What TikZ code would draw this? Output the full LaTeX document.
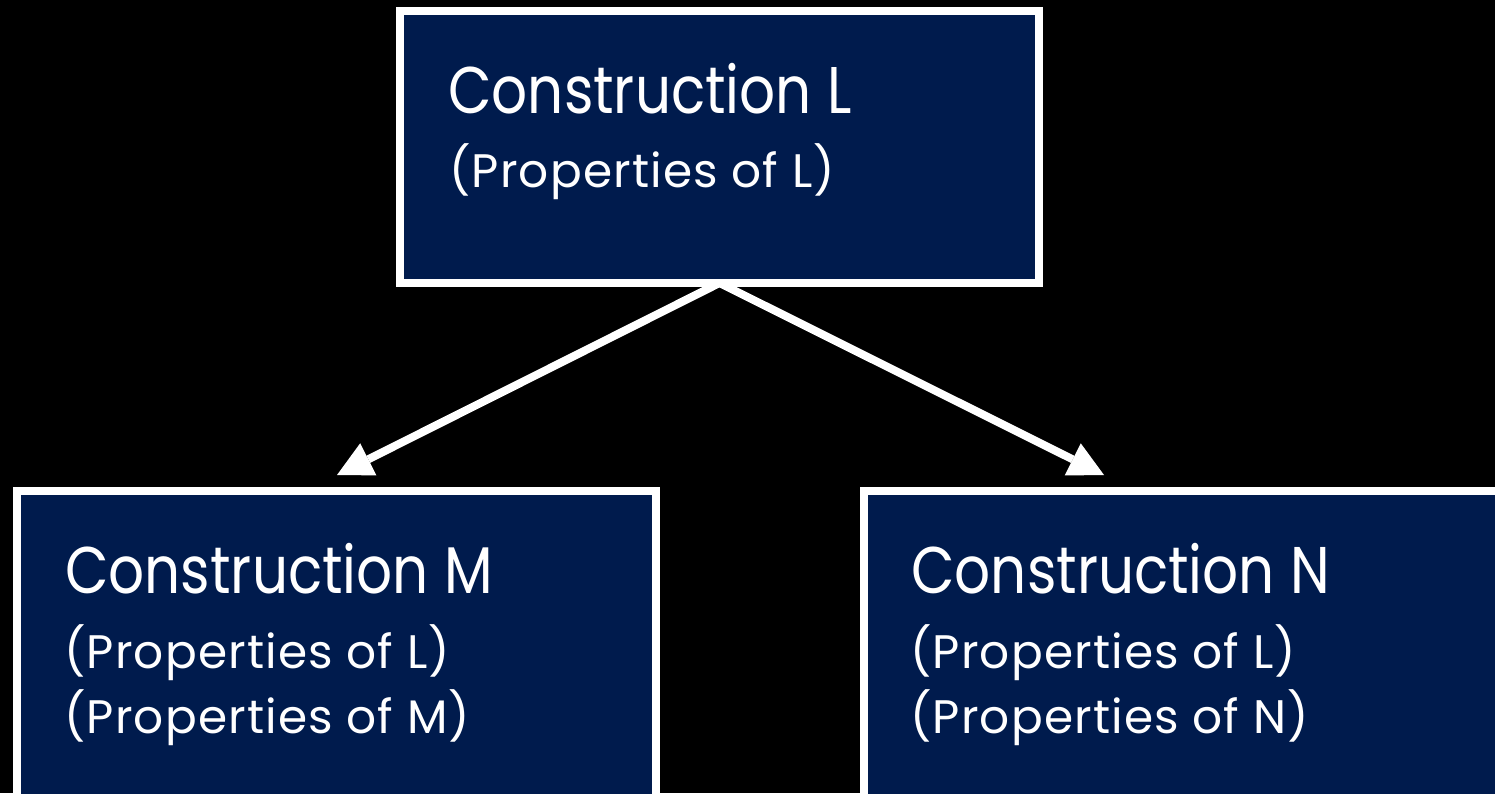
\documentclass[tikz,border=0pt]{standalone}
\usepackage{fontspec}
\setmainfont{Poppins}[FakeStretch=0.855]
\newfontfamily\subfont{Poppins}[LetterSpace=2.5]
\usetikzlibrary{arrows.meta}
\definecolor{navy}{HTML}{001B4D}
\tikzset{
  box/.style={draw=white, fill=navy, line width=8pt, rectangle, inner sep=0pt, outer sep=0pt},
  head/.style={text=white, font=\fontsize{66}{66}\selectfont, inner sep=0pt, anchor=base west},
  sub/.style={text=white, font=\subfont\fontsize{47}{47}\selectfont, inner sep=0pt, anchor=base west},
  arr/.style={draw=white, line width=8pt, -{Triangle[length=35pt,width=36pt,line width=0pt]}}
}
\begin{document}
\begin{tikzpicture}[x=1pt,y=-1pt]
\useasboundingbox (0,0) rectangle (1495,793);
\fill[black] (0,0) rectangle (1495,793);
\coordinate (tipM) at (337,475);
\coordinate (tipN) at (1104,475);
\node[box, minimum width=639pt, minimum height=272pt] (L) at (719.5,147) {};
\node[box, minimum width=639.5pt, minimum height=339pt] (M) at (336.25,660.5) {};
\node[box, minimum width=639pt, minimum height=339pt] (N) at (1183.5,660.5) {};
\draw[arr] (L.south) -- (tipM);
\draw[arr] (L.south) -- (tipN);
\node[head] (Lh) at (448,113) {Construction L};
\node[sub] (Ls1) at (449,187) {(Properties of L)};
\node[head] (Mh) at (65,593) {Construction M};
\node[sub] (Ms1) at (64,668) {(Properties of L)};
\node[sub] (Ms2) at (64,733) {(Properties of M)};
\node[head] (Nh) at (911,593) {Construction N};
\node[sub] (Ns1) at (910,668) {(Properties of L)};
\node[sub] (Ns2) at (910,733) {(Properties of N)};
\end{tikzpicture}
\end{document}
